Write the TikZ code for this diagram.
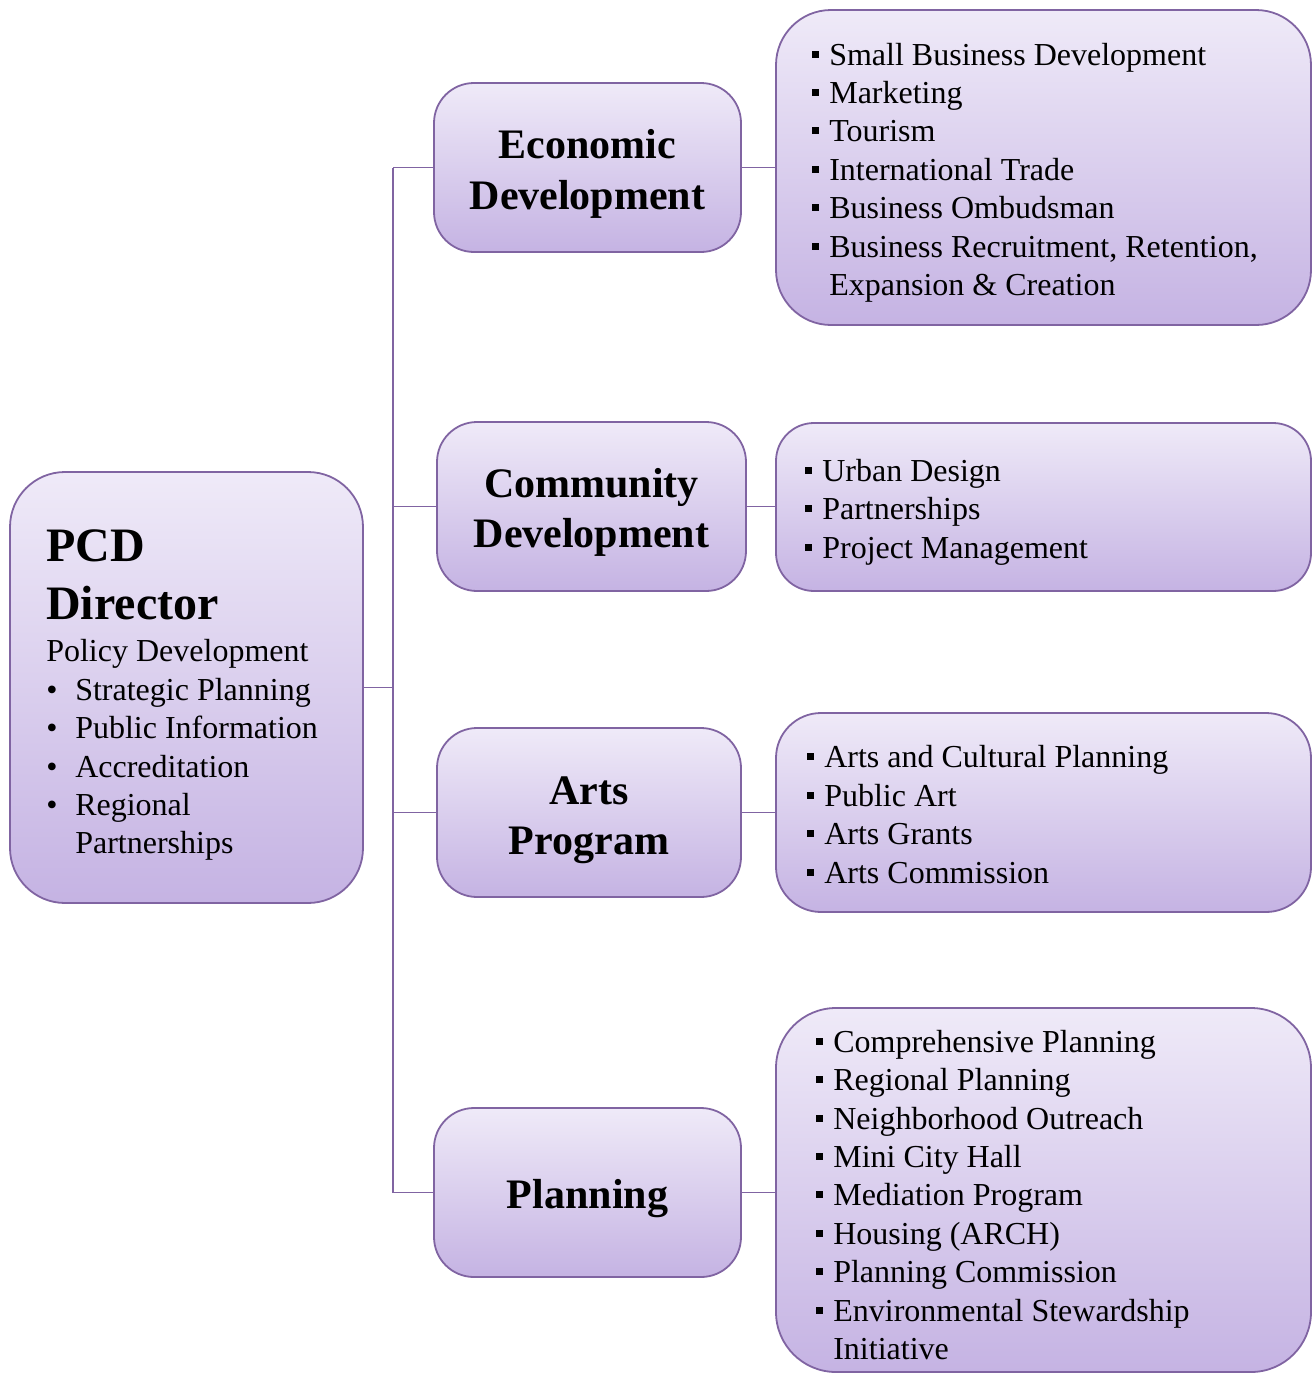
\documentclass[tikz,border=0pt]{standalone}
\usepackage{fontspec}
\setmainfont{Liberation Serif}
\usetikzlibrary{positioning}

\definecolor{pcdedge}{HTML}{8064A2}
\definecolor{pcdtop}{HTML}{EFEAF8}
\definecolor{pcdbot}{HTML}{C5B3E3}

\newcommand{\sqb}{\rule[7.5pt]{7pt}{7pt}\hspace{10pt}}
\newcommand{\sqi}{\hspace{17pt}}
\newcommand{\dotb}{\makebox[29pt][l]{\textbullet}}
\newcommand{\dirhead}{\fontsize{48}{57.6}\selectfont\bfseries}

\begin{document}
\begin{tikzpicture}[x=1pt, y=-1pt,
      box/.style={draw=pcdedge, line width=1.8pt, top color=pcdtop,
                  bottom color=pcdbot, rectangle, inner sep=0pt},
      ttl/.style={box, rounded corners=40pt, minimum height=169pt},
      ttltxt/.style={inner sep=0pt, align=center,
                  font=\fontsize{42}{50.4}\selectfont\bfseries},
      lst/.style={box, minimum width=535pt},
      txt/.style={anchor=west, align=left, inner sep=0pt,
                  font=\fontsize{32}{38.4}\selectfont},
      link/.style={draw=pcdedge, line width=1.8pt}]

    \useasboundingbox (0,0) rectangle (1313,1374);

    % ---- Layout ----
    \def\xm{587.5}    % middle column x
    \def\xl{1043.5}   % list column x
    \def\tx{393}      % trunk x

    % ---- Director ----
    \node[box, rounded corners=55pt, minimum width=353pt, minimum height=431pt]
         (dir) at (186.5, 687.5) {};
    \node[txt] (dirTxt) at ([xshift=37pt, yshift=-8pt]dir.west)
         {\dirhead PCD\\[19.2pt]
          \dirhead Director\\[4pt]
          Policy Development\\
          \dotb Strategic Planning\\
          \dotb Public Information\\
          \dotb Accreditation\\
          \dotb Regional\\
          \hspace{29pt}Partnerships};

    % ---- Divisions ----
    \node[ttl, minimum width=307pt] (eco) at (\xm, 167.5)  {};
    \node[ttl, minimum width=309pt] (com) at (591.5, 506.5) {};
    \node[ttl, minimum width=304pt] (art) at (589, 812.5)  {};
    \node[ttl, minimum width=307pt] (pla) at (\xm, 1192.5) {};

    \node[ttltxt] (ecoTtl) at ([yshift=-6.5pt]eco.center) {Economic\\Development};
    \node[ttltxt] (comTtl) at ([yshift=-6pt]com.center) {Community\\Development};
    \node[ttltxt] (artTtl) at ([yshift=-7.5pt]art.center) {Arts\\Program};
    \node[ttltxt] (plaTtl) at ([yshift=-6pt]pla.center) {Planning};

    % ---- Program lists ----
    \node[lst, rounded corners=55pt, minimum height=315pt] (ecoList) at (\xl, 167.5) {};
    \node[lst, rounded corners=38pt, minimum height=168pt] (comList) at (\xl, 507) {};
    \node[lst, rounded corners=45pt, minimum height=199pt] (artList) at (\xl, 812.5) {};
    \node[lst, rounded corners=60pt, minimum height=364pt] (plaList) at (\xl, 1190) {};

    \node[txt] (ecoTxt) at ([xshift=37pt, yshift=-5pt]ecoList.west)
         {\sqb Small Business Development\\
          \sqb Marketing\\
          \sqb Tourism\\
          \sqb International Trade\\
          \sqb Business Ombudsman\\
          \sqb Business Recruitment, Retention,\\
          \sqi Expansion \& Creation};
    \node[txt] (comTxt) at ([xshift=30pt, yshift=-5pt]comList.west)
         {\sqb Urban Design\\
          \sqb Partnerships\\
          \sqb Project Management};
    \node[txt] (artTxt) at ([xshift=32pt, yshift=-2pt]artList.west)
         {\sqb Arts and Cultural Planning\\
          \sqb Public Art\\
          \sqb Arts Grants\\
          \sqb Arts Commission};
    \node[txt] (plaTxt) at ([xshift=41pt, yshift=-5pt]plaList.west)
         {\sqb Comprehensive Planning\\
          \sqb Regional Planning\\
          \sqb Neighborhood Outreach\\
          \sqb Mini City Hall\\
          \sqb Mediation Program\\
          \sqb Housing (ARCH)\\
          \sqb Planning Commission\\
          \sqb Environmental Stewardship\\
          \sqi Initiative};

    % ---- Connectors ----
    \coordinate (trunk) at (\tx, 687.5);
    \draw[link] (dir.east) -- (dir.east -| trunk);
    \draw[link] (eco.west -| trunk) -- (pla.west -| trunk);
    \foreach \dv in {eco, com, art, pla}{
      \draw[link] (\dv.west -| trunk) -- (\dv.west);
      \draw[link] (\dv.east) -- (\dv.east -| \dv List.west);
    }

\end{tikzpicture}
\end{document}
